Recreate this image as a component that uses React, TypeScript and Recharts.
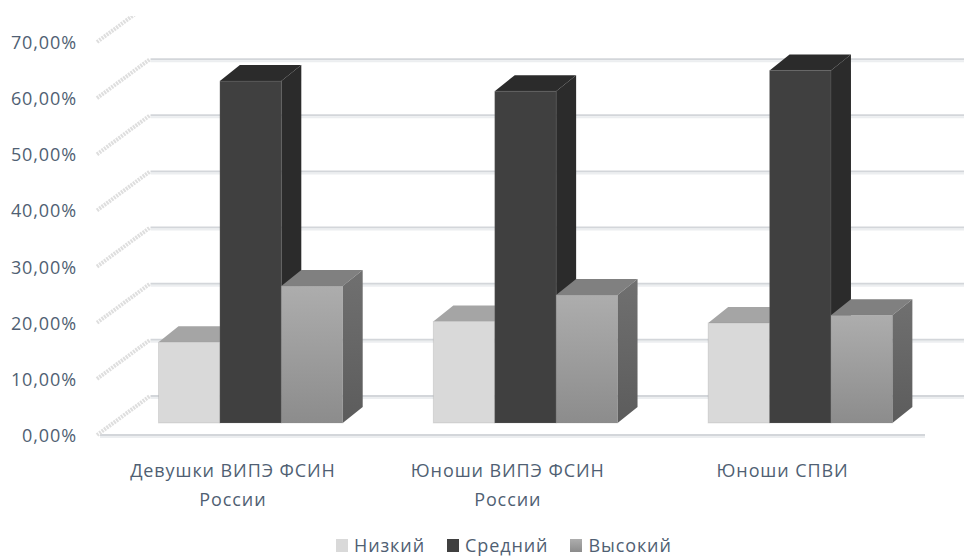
import { Bar, BarChart, CartesianGrid, Legend, ReferenceLine, XAxis, YAxis } from "recharts";

const categories = ["Девушки ВИПЭ ФСИН\nРоссии", "Юноши ВИПЭ ФСИН\nРоссии", "Юноши СПВИ"];
const lowValues = [14.4, 18.1, 17.8];
const midValues = [60.9, 59.1, 62.8];
const highValues = [24.4, 22.8, 19.2];
const yTicks = [0, 10, 20, 30, 40, 50, 60, 70];

const chartData = categories.map((name, i) => ({
  name,
  low: lowValues[i],
  mid: midValues[i],
  high: highValues[i],
}));

const FONT = "'Open Sans', sans-serif";
const TEXT = "#505f73";
const DX = 20; // depth of the fake 3d boxes
const DY = 16;

const Box3D = ({ x, y, width, height, fill, top, side }: any) => (
  <g>
    <polygon
      points={`${x},${y} ${x + DX},${y - DY} ${x + width + DX},${y - DY} ${x + width},${y}`}
      fill={top}
    />
    <polygon
      points={`${x + width},${y} ${x + width + DX},${y - DY} ${x + width + DX},${y + height - DY} ${x + width},${y + height}`}
      fill={side}
    />
    <rect x={x} y={y} width={width} height={height} fill={fill} stroke="rgba(128,128,128,0.2)" />
  </g>
);

const WallTick = ({ y, payload }: any) => (
  <g>
    <line
      x1={97}
      y1={y + 12}
      x2={150}
      y2={y - 27}
      stroke="#dedede"
      strokeWidth={4}
      strokeDasharray="2 1"
      clipPath="url(#wallClip)"
    />
    <text x={77} y={y + 19} textAnchor="end" fontFamily={FONT} fontSize={18} fill={TEXT} letterSpacing={0.9}>
      {payload.value.toFixed(2).replace(".", ",") + "%"}
    </text>
  </g>
);

const CategoryTick = ({ x, y, payload }: any) => (
  <text textAnchor="middle" fontFamily={FONT} fontSize={18} fill={TEXT} letterSpacing={0.9}>
    {payload.value.split("\n").map((line: string, i: number) => (
      <tspan key={line} x={x - 18} y={y + 46 + i * 29}>
        {line}
      </tspan>
    ))}
  </text>
);

const BackGridLine = ({ x1, y1 }: any) => (
  <g clipPath="url(#wallClip)">
    <line x1={x1 + 37} y1={y1 - 27} x2={964} y2={y1 - 27} stroke="#d3d6da" strokeWidth={2} />
    <line x1={x1 + 37} y1={y1 - 25} x2={964} y2={y1 - 25} stroke="#eceef0" strokeWidth={2} />
  </g>
);

const FloorLine = ({ y1 }: any) => (
  <g>
    <line x1={100} y1={y1 + 12} x2={925} y2={y1 + 12} stroke="#d3d6da" strokeWidth={2} />
    <line x1={100} y1={y1 + 14} x2={925} y2={y1 + 14} stroke="#eceef0" strokeWidth={2} />
  </g>
);

const LegendContent = ({ payload }: any) => (
  <div style={{ display: "flex", gap: 22, fontFamily: FONT, fontSize: 18, color: TEXT, letterSpacing: 0.9 }}>
    {(payload || []).map((entry: any) => (
      <span key={entry.value} style={{ display: "flex", alignItems: "center", gap: 6 }}>
        <svg width={12} height={13}>
          <rect width={12} height={13} fill={entry.color} />
        </svg>
        {entry.value}
      </span>
    ))}
  </div>
);

export default function App() {
  return (
    <div style={{ position: "absolute", left: 0, top: 0 }}>
      <BarChart
        width={964}
        height={557}
        data={chartData}
        barSize={61.4}
        barGap={0}
        margin={{ top: 30, right: 26, left: 0, bottom: 0 }}
      >
        <defs>
          <clipPath id="wallClip">
            <rect x={0} y={16} width={964} height={541} />
          </clipPath>
          <linearGradient id="highFront" x1="0" y1="0" x2="0" y2="1">
            <stop offset="0%" stopColor="#adadad" />
            <stop offset="100%" stopColor="#8c8c8c" />
          </linearGradient>
          <linearGradient id="highSide" x1="0" y1="0" x2="0" y2="1">
            <stop offset="0%" stopColor="#707070" />
            <stop offset="100%" stopColor="#5c5c5c" />
          </linearGradient>
        </defs>
        <CartesianGrid vertical={false} horizontal={(p: any) => <BackGridLine key={p.key} {...p} />} />
        <XAxis
          dataKey="name"
          height={100}
          axisLine={false}
          tickLine={false}
          interval={0}
          tick={<CategoryTick />}
        />
        <YAxis
          width={113.5}
          domain={[0, 70]}
          ticks={yTicks}
          axisLine={false}
          tickLine={false}
          tick={<WallTick />}
        />
        <ReferenceLine y={0} shape={<FloorLine />} />
        <Bar
          dataKey="low"
          name="Низкий"
          fill="#d9d9d9"
          isAnimationActive={false}
          shape={(p: any) => <Box3D {...p} top="#a5a5a5" side="#a5a5a5" />}
        />
        <Bar
          dataKey="mid"
          name="Средний"
          fill="#404040"
          isAnimationActive={false}
          shape={(p: any) => <Box3D {...p} top="#2b2b2b" side="#2b2b2b" />}
        />
        <Bar
          dataKey="high"
          name="Высокий"
          fill="url(#highFront)"
          isAnimationActive={false}
          shape={(p: any) => <Box3D {...p} top="#808080" side="url(#highSide)" />}
        />
        <Legend
          height={34}
          itemSorter={null}
          content={<LegendContent />}
          wrapperStyle={{ left: 336, top: 533, width: "auto" }}
        />
      </BarChart>
    </div>
  );
}
